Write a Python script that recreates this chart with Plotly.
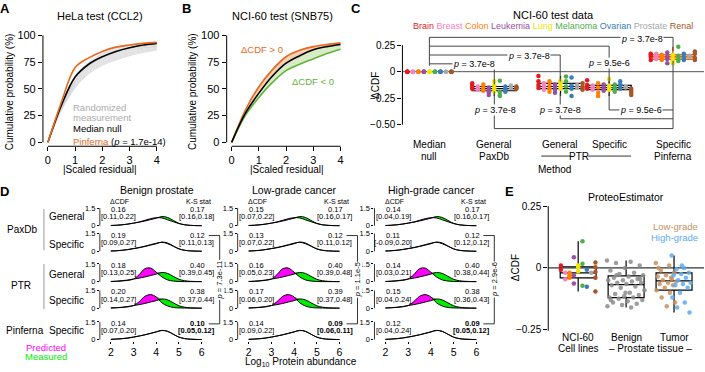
import plotly.graph_objects as go
import numpy as np

W, H = 705, 372
FONT = "Liberation Sans, Arial, sans-serif"

# ---------------- data ----------------
# Panel A / B : cumulative distributions of |scaled residual|
cdf_x = [0, 0.5, 1, 1.5, 2, 2.5, 3, 3.5, 4]
hela_random = [
    [0, 36, 62, 75, 83, 88, 91, 92.5, 93.5],
    [0, 35, 60, 73, 81, 86, 89, 91, 92],
    [0, 34, 58, 71, 79, 84, 88, 90, 91.5],
    [0, 34, 57, 70, 78, 83, 87, 89.5, 91],
    [0, 33, 56, 69, 77, 82, 86, 88.5, 90],
    [0, 33, 55, 68, 76, 81, 85, 88, 89.5],
    [0, 32, 54, 67, 75, 80, 84, 87, 89],
    [0, 32, 53, 66, 74, 79, 83, 86, 88],
    [0, 31, 52, 65, 73, 78, 82, 85, 87],
    [0, 30, 51, 64, 72, 77, 81, 84, 86.5],
    [0, 36, 61, 74, 82, 87, 90, 92, 93],
    [0, 33, 57, 71, 80, 85, 88.5, 90.5, 92],
]
hela_median = [0, 35, 61, 73, 80, 85, 88.5, 91, 92.5]
hela_pinferna = [0, 38, 70, 79, 85, 89, 91, 92.5, 93.5]

snb_pos = [0, 30, 52, 68, 80, 86, 89.5, 91.5, 93]
snb_median = [0, 27, 46, 62, 74, 81, 86.5, 89.5, 91.5]
snb_neg = [0, 25, 42, 56, 67, 73, 78, 83, 87]

# Panel C : NCI-60 test data
tissues = ["Brain", "Breast", "Colon", "Leukemia", "Lung", "Melanoma", "Ovarian", "Prostate", "Renal"]
tissue_colors = ["#e41a1c", "#f781bf", "#ff7f00", "#984ea3", "#f0e400", "#4daf4a", "#377eb8", "#a8a8a8", "#a65628"]
cell_tissue = [0, 0, 0, 0, 1, 1, 1, 2, 2, 2, 2, 3, 3, 3, 3, 4, 4, 4, 4,
               5, 5, 5, 5, 6, 6, 6, 6, 7, 7, 8, 8, 8, 8]
c_median_null = [0, 0, 0, 0, 0, 0, 0, 0, 0, 0, 0, 0, 0, 0, 0, 0, 0,
                 0, 0, 0, 0, 0, 0, 0, 0, 0, 0, 0, 0, 0, 0, 0, 0]
c_paxdb_general = [-0.11, -0.13, -0.15, -0.16, -0.14, -0.16, -0.17, -0.12, -0.15, -0.17, -0.18,
                   -0.15, -0.18, -0.20, -0.22, -0.09, -0.13, -0.16, -0.19, -0.085, -0.19, -0.22, -0.23,
                   -0.14, -0.16, -0.19, -0.17, -0.13, -0.155, -0.14, -0.15, -0.16, -0.155]
c_ptr_general = [-0.04, -0.09, -0.125, -0.155, -0.14, -0.17, -0.11, -0.16, -0.125, -0.19, -0.09,
                 -0.17, -0.20, -0.14, -0.12, -0.085, -0.14, -0.16, -0.11, -0.045, -0.19, -0.14, -0.09,
                 -0.055, -0.13, -0.23, -0.16, -0.125, -0.15, -0.14, -0.155, -0.17, -0.11]
c_ptr_specific = [-0.08, -0.125, -0.16, -0.14, -0.13, -0.15, -0.17, -0.11, -0.20, -0.23, -0.15,
                  -0.14, -0.16, -0.18, -0.12, -0.07, -0.17, -0.13, -0.15, -0.12, -0.15, -0.19, -0.16,
                  -0.09, -0.16, -0.13, -0.12, -0.14, -0.15, -0.16, -0.18, -0.20, -0.22]
c_pinferna = [0.17, 0.14, 0.11, 0.16, 0.15, 0.12, 0.17, 0.16, 0.13, 0.11, 0.15,
              0.18, 0.14, 0.08, 0.12, 0.16, 0.13, 0.08, 0.10, 0.235, 0.12, 0.10, 0.15,
              0.17, 0.14, 0.11, 0.12, 0.14, 0.15, 0.19, 0.17, 0.13, 0.11]
c_labels = ["Median<br>null", "General<br>PaxDb", "General", "Specific", "Specific<br>Pinferna"]
c_pos = [0, 1, 2.02, 2.77, 3.75]

# Panel D : density of log10 protein abundance
dens_x = [2.0, 2.25, 2.5, 2.75, 3.0, 3.25, 3.5, 3.75, 4.0, 4.25, 4.5, 4.75, 5.0, 5.25, 5.5, 5.75, 6.0]
dens_measured = [0.02, 0.04, 0.08, 0.14, 0.22, 0.30, 0.40, 0.52, 0.64, 0.78, 0.70, 0.45, 0.20, 0.08, 0.03, 0.01, 0.0]
dens_pred_paxdb_general = [0.02, 0.04, 0.08, 0.14, 0.22, 0.32, 0.46, 0.60, 0.68, 0.66, 0.50, 0.34, 0.18, 0.08, 0.03, 0.01, 0.0]
dens_pred_paxdb_specific = [0.02, 0.04, 0.08, 0.15, 0.23, 0.32, 0.43, 0.56, 0.68, 0.76, 0.64, 0.42, 0.20, 0.08, 0.03, 0.01, 0.0]
dens_pred_ptr_general = [0.01, 0.03, 0.06, 0.11, 0.22, 0.60, 1.10, 1.15, 0.80, 0.40, 0.15, 0.05, 0.01, 0.0, 0.0, 0.0, 0.0]
dens_pred_ptr_specific = [0.01, 0.03, 0.06, 0.11, 0.22, 0.55, 1.00, 1.15, 0.95, 0.45, 0.18, 0.06, 0.02, 0.01, 0.0, 0.0, 0.0]
dens_pred_pinferna = [0.02, 0.04, 0.07, 0.12, 0.20, 0.30, 0.41, 0.53, 0.66, 0.77, 0.69, 0.45, 0.21, 0.08, 0.03, 0.01, 0.0]
d_predictions = [dens_pred_paxdb_general, dens_pred_paxdb_specific, dens_pred_ptr_general,
                 dens_pred_ptr_specific, dens_pred_pinferna]
d_columns = ["Benign prostate", "Low-grade cancer", "High-grade cancer"]
d_dcdf = [
    [("0.16", "[0.11,0.22]"), ("0.19", "[0.09,0.27]"), ("0.18", "[0.13,0.25]"), ("0.20", "[0.14,0.27]"), ("0.14", "[0.07,0.20]")],
    [("0.15", "[0.07,0.22]"), ("0.13", "[0.07,0.22]"), ("0.16", "[0.05,0.23]"), ("0.17", "[0.06,0.20]"), ("0.14", "[0.09,0.22]")],
    [("0.14", "[0.04,0.19]"), ("0.11", "[-0.09,0.20]"), ("0.14", "[0.03,0.21]"), ("0.15", "[0.04,0.24]"), ("0.12", "[0.04,0.24]")],
]
d_ks = [
    [("0.17", "[0.16,0.18]"), ("0.12", "[0.11,0.13]"), ("0.40", "[0.39,0.45]"), ("0.38", "[0.37,0.44]"), ("0.10", "[0.05,0.12]")],
    [("0.17", "[0.16,0.17]"), ("0.12", "[0.11,0.12]"), ("0.40", "[0.39,0.48]"), ("0.39", "[0.37,0.48]"), ("0.09", "[0.06,0.11]")],
    [("0.17", "[0.16,0.17]"), ("0.12", "[0.12,0.12]"), ("0.40", "[0.38,0.44]"), ("0.38", "[0.36,0.43]"), ("0.09", "[0.05,0.12]")],
]
d_pvals = ["7.3e-11", "1.1e-5", "2.9e-6"]

# Panel E : ProteoEstimator
e_nci_tissue = [0, 0, 1, 1, 2, 2, 2, 2, 3, 3, 3, 4, 4, 4, 5, 5, 5, 6, 6, 7, 8, 8, 8, 8, 8]
e_nci_values = [0.01, -0.007, -0.046, -0.02, -0.03, -0.04, -0.02, -0.035, 0.043, -0.03, -0.063,
                0.003, -0.013, 0.01, 0.108, 0.017, -0.072, -0.007, -0.076, -0.02,
                0.022, 0.003, -0.016, -0.04, -0.095]
e_benign = [0.03, 0.025, 0.02, 0.01, 0.0, -0.01, -0.02, -0.025, -0.03, -0.035, -0.04, -0.045,
            -0.05, -0.05, -0.055, -0.06, -0.06, -0.065, -0.07, -0.075, -0.08, -0.09, -0.1, -0.105,
            -0.11, -0.115, -0.12, -0.12, -0.125, -0.13, -0.135, -0.14, -0.145, -0.15, -0.155, -0.16,
            -0.03, -0.045, -0.1, -0.13]
e_tumor_low = [0.02, 0.01, -0.01, -0.02, -0.03, -0.035, -0.04, -0.05, -0.055, -0.06, -0.065,
               -0.07, -0.08, -0.09, -0.1, -0.12, -0.14, -0.155, 0.0, -0.045]
e_tumor_high = [0.05, 0.0, -0.005, -0.02, -0.025, -0.03, -0.04, -0.05, -0.06, -0.065, -0.07,
                -0.08, -0.1, -0.12, -0.14, -0.16, -0.18, 0.01]
e_labels = ["NCI-60", "Benign", "Tumor"]

# ---------------- helpers ----------------
fig = go.Figure()
layout = dict(width=W, height=H, margin=dict(l=0, r=0, t=0, b=0), paper_bgcolor="white",
              plot_bgcolor="rgba(0,0,0,0)", showlegend=False,
              font=dict(family=FONT, size=10, color="black"))
shapes = []
annotations = []
n_axes = [0]


def add_axes(xdom, ydom, xcal, ycal, xkw=None, ykw=None):
    n_axes[0] += 1
    n = n_axes[0]
    sfx = "" if n == 1 else str(n)
    (xv1, xp1), (xv2, xp2) = xcal
    sx = (xv2 - xv1) / (xp2 - xp1)
    xr = [xv1 + (xdom[0] - xp1) * sx, xv1 + (xdom[1] - xp1) * sx]
    (yv1, yp1), (yv2, yp2) = ycal
    sy = (yv2 - yv1) / (yp2 - yp1)
    yr = [yv1 + (ydom[1] - yp1) * sy, yv1 + (ydom[0] - yp1) * sy]
    base = dict(showgrid=False, zeroline=False, showline=False, ticks="", showticklabels=False,
                fixedrange=True, tickcolor="black", tickwidth=1)
    xa = dict(base, domain=[xdom[0] / W, xdom[1] / W], range=xr, anchor="y" + sfx)
    ya = dict(base, domain=[1 - ydom[1] / H, 1 - ydom[0] / H], range=yr, anchor="x" + sfx)
    xa.update(xkw or {})
    ya.update(ykw or {})
    layout["xaxis" + sfx] = xa
    layout["yaxis" + sfx] = ya
    return "x" + sfx, "y" + sfx


def line(x0, y0, x1, y1, color="black", width=1, layer="above"):
    shapes.append(dict(type="line", xref="paper", yref="paper", x0=x0 / W, x1=x1 / W,
                       y0=1 - y0 / H, y1=1 - y1 / H, layer=layer,
                       line=dict(color=color, width=width)))


def text(x, y, s, size=10, color="black", xanchor="center", angle=0, bg="rgba(0,0,0,0)"):
    annotations.append(dict(xref="paper", yref="paper", x=x / W, y=1 - y / H, text=s,
                            showarrow=False, font=dict(size=size, color=color, family=FONT),
                            xanchor=xanchor, yanchor="middle", textangle=angle,
                            bgcolor=bg, borderpad=0))


def tick_kw(vals, texts=None, size=10, ln=4):
    d = dict(tickvals=vals, ticks="outside", ticklen=ln, showticklabels=True,
             tickfont=dict(size=size, family=FONT, color="black"))
    if texts is not None:
        d["ticktext"] = texts
    return d


ORANGE = "#e8681e"
GREEN = "#62b33a"

# ---------------- Panel A ----------------
xa, ya = add_axes((43, 160), (30, 146), ((0, 48), (4, 157)), ((0, 142), (100, 33)),
                  tick_kw([0, 1, 2, 3, 4], size=11), tick_kw([0, 25, 50, 75, 100], size=11))
for curve in hela_random:
    fig.add_trace(go.Scatter(x=cdf_x, y=curve, mode="lines", xaxis=xa, yaxis=ya, hoverinfo="skip",
                             line=dict(color="#d0d0d0", width=0.7, shape="spline")))
fig.add_trace(go.Scatter(x=cdf_x, y=hela_median, mode="lines", xaxis=xa, yaxis=ya,
                         line=dict(color="black", width=1.6, shape="spline")))
fig.add_trace(go.Scatter(x=cdf_x, y=hela_pinferna, mode="lines", xaxis=xa, yaxis=ya,
                         line=dict(color=ORANGE, width=1.6, shape="spline")))
line(43, 33, 43, 142)
line(48, 146, 157, 146)
text(100, 13, "HeLa test (CCL2)", size=11)
text(9, 90, "Cumulative probability (%)", size=10, angle=-90)
text(100, 170, "|Scaled residual|", size=10)
text(72, 107, "Randomized", size=9.5, color="#aaaaaa", xanchor="left")
text(72, 117, "measurement", size=9.5, color="#aaaaaa", xanchor="left")
text(72, 128, "Median null", size=9.5, xanchor="left")
text(72, 141, f"<span style='color:{ORANGE}'>Pinferna</span> (<i>p</i> = 1.7e-14)", size=9.5, xanchor="left")
text(5, 6, "<b>A</b>", size=13)

# ---------------- Panel B ----------------
xb, yb_ = add_axes((227, 344), (30, 146), ((0, 232), (4, 341)), ((0, 142), (100, 33)),
                   tick_kw([0, 1, 2, 3, 4], size=11), tick_kw([0, 25, 50, 75, 100], size=11))
fig.add_trace(go.Scatter(x=cdf_x, y=snb_median, mode="lines", xaxis=xb, yaxis=yb_, hoverinfo="skip",
                         line=dict(width=0, shape="spline")))
fig.add_trace(go.Scatter(x=cdf_x, y=snb_pos, mode="lines", xaxis=xb, yaxis=yb_, fill="tonexty",
                         fillcolor="rgba(245,190,150,0.7)", line=dict(color=ORANGE, width=1.6, shape="spline")))
fig.add_trace(go.Scatter(x=cdf_x, y=snb_median, mode="lines", xaxis=xb, yaxis=yb_, hoverinfo="skip",
                         line=dict(width=0, shape="spline")))
fig.add_trace(go.Scatter(x=cdf_x, y=snb_neg, mode="lines", xaxis=xb, yaxis=yb_, fill="tonexty",
                         fillcolor="rgba(205,230,185,0.8)", line=dict(color=GREEN, width=1.6, shape="spline")))
fig.add_trace(go.Scatter(x=cdf_x, y=snb_median, mode="lines", xaxis=xb, yaxis=yb_,
                         line=dict(color="black", width=1.6, shape="spline")))
line(227, 33, 227, 142)
line(232, 146, 341, 146)
text(283, 13, "NCI-60 test (SNB75)", size=11)
text(193, 90, "Cumulative probability (%)", size=10, angle=-90)
text(287, 170, "|Scaled residual|", size=10)
text(262, 47, "ΔCDF > 0", size=9.5, color=ORANGE)
text(313, 80, "ΔCDF < 0", size=9.5, color=GREEN)
text(187, 6, "<b>B</b>", size=13)

# ---------------- Panel C ----------------
xc, yc = add_axes((403, 705), (28, 132), ((0, 430), (1, 495)), ((0, 70), (0.25, 43)),
                  None, tick_kw([-0.5, -0.25, 0, 0.25], ["−0.50", "−0.25", "0", "0.25"], size=10))
line(403, 70, 705, 70, color="#555555", width=1, layer="below")
line(403, 43, 403, 124)
c_series = [c_median_null, c_paxdb_general, c_ptr_general, c_ptr_specific, c_pinferna]
box_w = 0.68
for k, (vals, pos) in enumerate(zip(c_series, c_pos)):
    if k > 0:
        col = ORANGE if k == 4 else "black"
        fig.add_trace(go.Box(x=[pos] * len(vals), y=vals, xaxis=xc, yaxis=yc, width=box_w,
                             boxpoints=False, whiskerwidth=0, fillcolor="rgba(0,0,0,0)",
                             line=dict(color=col, width=1.6 if k == 4 else 1.2), hoverinfo="skip"))
    xs = [pos + (t - 4) * box_w / 8 for t in cell_tissue]
    fig.add_trace(go.Scatter(x=xs, y=vals, mode="markers", xaxis=xc, yaxis=yc,
                             marker=dict(size=4.5, color=[tissue_colors[t] for t in cell_tissue])))
# significance brackets
BR = "#444444"
line(430, 35, 430, 64, BR)
line(430, 35, 674, 35, BR); line(674, 35, 674, 49, BR)
line(430, 44, 610, 44, BR); line(610, 44, 610, 82, BR)
line(430, 53, 561, 53, BR); line(561, 53, 561, 80, BR)
line(430, 62, 495, 62, BR); line(495, 62, 495, 83, BR)
line(674, 59, 674, 128, BR)
line(495, 90, 495, 128, BR); line(495, 128, 674, 128, BR)
line(561, 92, 561, 118, BR); line(561, 118, 674, 118, BR)
line(610, 92, 610, 109, BR); line(610, 109, 674, 109, BR)
P = "<i>p</i> = "
text(643, 37, P + "3.7e-8", size=9, bg="white")
text(610, 61, P + "9.5e-6", size=9, bg="white")
text(530, 54, P + "3.7e-8", size=9, bg="white")
text(475, 62, P + "3.7e-8", size=9, bg="white")
text(496, 109, P + "3.7e-8", size=9, bg="white")
text(561, 109, P + "3.7e-8", size=9, bg="white")
text(642, 109, P + "9.5e-6", size=9, bg="white")
text(554, 12, "NCI-60 test data", size=11)
legend_txt = " ".join(f"<span style='color:{c}'>{t}</span>" for t, c in zip(tissues, tissue_colors))
text(554, 23, legend_txt, size=9)
text(376, 84, "ΔCDF", size=10, angle=-90)
cpx = [430, 495, 561, 610, 674]
for lab, xp in zip(c_labels, cpx):
    parts = lab.split("<br>")
    text(xp, 144, parts[0], size=10)
    if len(parts) > 1:
        text(xp, 156, parts[1], size=10)
text(580, 156, "PTR", size=10)
line(542, 156, 571, 156, width=0.8)
line(589, 156, 632, 156, width=0.8)
text(555, 170, "Method", size=10)
text(357, 6, "<b>C</b>", size=13)

# ---------------- Panel D ----------------
col_x2 = [111, 249, 386]
row_yb = [227, 253, 284, 311, 343]
MAG = "#ff00ff"
GRN = "#00ee00"
meas = np.array(dens_measured)
for c in range(3):
    X2 = col_x2[c]
    for r in range(5):
        yb0 = row_yb[r]
        xkw = tick_kw([2, 3, 4, 5, 6], size=10.5, ln=2) if r == 4 else None
        ykw = tick_kw([0, 1.5], ["0", "1.5"], size=7.5, ln=2)
        xd, yd = add_axes((X2 - 11, X2 + 93), (yb0 - 20, yb0 + 1), ((2, X2), (6, X2 + 91)),
                          ((0, yb0), (1.5, yb0 - 18)), xkw, ykw)
        if r == 4:
            layout["xaxis" + xd[1:]]["ticklabelstandoff"] = 0
        pred = np.array(d_predictions[r])
        top = np.maximum(meas, pred)
        common = dict(mode="lines", xaxis=xd, yaxis=yd, hoverinfo="skip")
        fig.add_trace(go.Scatter(x=dens_x, y=meas, line=dict(width=0, shape="spline"), **common))
        fig.add_trace(go.Scatter(x=dens_x, y=top, fill="tonexty", fillcolor=MAG,
                                 line=dict(width=0, shape="spline"), **common))
        fig.add_trace(go.Scatter(x=dens_x, y=pred, line=dict(width=0, shape="spline"), **common))
        fig.add_trace(go.Scatter(x=dens_x, y=top, fill="tonexty", fillcolor=GRN,
                                 line=dict(width=0, shape="spline"), **common))
        fig.add_trace(go.Scatter(x=dens_x, y=meas, line=dict(color="black", width=1, shape="spline"), **common))
        fig.add_trace(go.Scatter(x=dens_x, y=pred, line=dict(color="black", width=1, shape="spline"), **common))
        line(X2 - 11, yb0, X2 - 11, yb0 - 18, width=0.8)
        v, ci = d_dcdf[c][r]
        text(X2 + 8, yb0 - 16.5, v, size=7.5)
        text(X2 + 8, yb0 - 9, ci, size=7.5)
        v, ci = d_ks[c][r]
        if r == 4:
            v, ci = f"<b>{v}</b>", f"<b>{ci}</b>"
        text(X2 + 87, yb0 - 16.5, v, size=7.5)
        text(X2 + 86, yb0 - 9, ci, size=7.5)
    text(X2 + 46, 191, d_columns[c], size=10.5)
    text(X2 + 9, 202, "ΔCDF", size=7)
    text(X2 + 88, 202, "K-S stat", size=7)
    ytop = row_yb[1] - 16
    ybot = row_yb[4] - 16
    line(X2 + 98, ytop, X2 + 109, ytop, width=0.8)
    line(X2 + 109, ytop, X2 + 109, ybot, width=0.8)
    line(X2 + 98, ybot, X2 + 109, ybot, width=0.8)
    text(X2 + 109, (ytop + ybot) / 2, P + d_pvals[c], size=7.5, angle=-90, bg="white")

# row labels
text(22, 231, "PaxDb", size=10)
text(67, 218, "General", size=10)
text(67, 246, "Specific", size=10)
line(44, 210, 44, 252, color="#999999", width=1)
text(21, 288, "PTR", size=10)
text(67, 277, "General", size=10)
text(67, 303, "Specific", size=10)
line(44, 266, 44, 312, color="#999999", width=1)
text(25, 334, "Pinferna", size=10)
text(67, 334, "Specific", size=10)
text(46, 351, "Predicted", size=9.5, color=MAG)
text(46, 360, "Measured", size=9.5, color=GRN)
text(301, 365.5, "Log<sub>10</sub> Protein abundance", size=10)
text(5, 192, "<b>D</b>", size=13)

# ---------------- Panel E ----------------
xe, ye = add_axes((549, 705), (200, 340), ((0, 579), (1, 627)), ((0, 270), (0.25, 207)),
                  None, tick_kw([-0.25, 0, 0.25], ["−0.25", "0", "0.25"], size=10))
line(549, 270, 705, 270, color="black", width=1, layer="below")
line(549, 207, 549, 334)
LOW = "#c8915e"
HIGH = "#5aaaf2"
tumor_all = e_tumor_low + e_tumor_high
for pos, vals in zip([0, 1, 2], [e_nci_values, e_benign, tumor_all]):
    fig.add_trace(go.Box(x=[pos] * len(vals), y=vals, xaxis=xe, yaxis=ye, width=0.75,
                         boxpoints=False, whiskerwidth=0, fillcolor="rgba(0,0,0,0)",
                         line=dict(color="black", width=1.2), hoverinfo="skip"))
fig.add_trace(go.Scatter(x=[(t - 4) * 0.09 for t in e_nci_tissue], y=e_nci_values, mode="markers",
                         xaxis=xe, yaxis=ye,
                         marker=dict(size=4.5, color=[tissue_colors[t] for t in e_nci_tissue])))
fig.add_trace(go.Scatter(x=[1 + ((i * 0.618) % 1 - 0.5) * 0.8 for i in range(len(e_benign))],
                         y=e_benign, mode="markers", xaxis=xe, yaxis=ye,
                         marker=dict(size=4.5, color="#8c8c8c", opacity=0.85)))
fig.add_trace(go.Scatter(x=[2 - 0.38 + ((i * 0.618) % 1) * 0.45 for i in range(len(e_tumor_low))],
                         y=e_tumor_low, mode="markers", xaxis=xe, yaxis=ye,
                         marker=dict(size=4.5, color=LOW, opacity=0.85)))
fig.add_trace(go.Scatter(x=[2 - 0.05 + ((i * 0.618) % 1) * 0.42 for i in range(len(e_tumor_high))],
                         y=e_tumor_high, mode="markers", xaxis=xe, yaxis=ye,
                         marker=dict(size=4.5, color=HIGH, opacity=0.85)))
text(627, 198, "ProteoEstimator", size=10.5)
text(700, 228, "Low-grade", size=9.5, color=LOW, xanchor="right")
text(700, 239, "High-grade", size=9.5, color=HIGH, xanchor="right")
text(517, 270, "ΔCDF", size=10, angle=-90)
text(579, 341, e_labels[0], size=10)
text(579, 352, "Cell lines", size=10)
text(627, 341, e_labels[1], size=10)
text(675, 341, e_labels[2], size=10)
text(651, 352, "– Prostate tissue –", size=10)
text(510, 192, "<b>E</b>", size=13)

layout["shapes"] = shapes
layout["annotations"] = annotations
fig.update_layout(**layout)
fig.write_html("out.html", config={"displayModeBar": False, "staticPlot": True},
               post_script="document.body.style.margin='0';document.body.style.overflow='hidden';")
